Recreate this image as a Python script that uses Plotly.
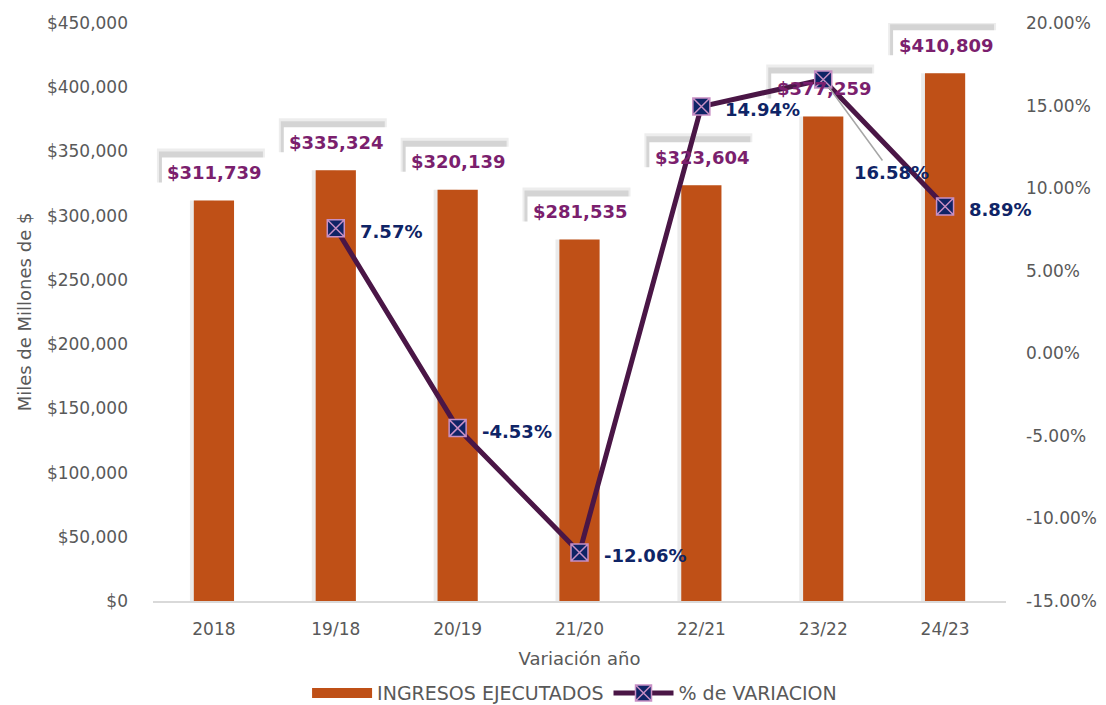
import plotly.graph_objects as go

categories = ["2018", "19/18", "20/19", "21/20", "22/21", "23/22", "24/23"]
ingresos = [311739, 335324, 320139, 281535, 323604, 377259, 410809]
variacion = [None, 7.57, -4.53, -12.06, 14.94, 16.58, 8.89]
y_ticks = [0, 50000, 100000, 150000, 200000, 250000, 300000, 350000, 400000, 450000]
y2_ticks = [-15, -10, -5, 0, 5, 10, 15, 20]

FONT = "DejaVu Sans"
GREY = "#595959"
BAR = "#BF5017"
LINE = "#4A1646"
MARK = "#0F2466"
LBL_BAR = "#7B1F6E"

xpos = list(range(len(categories)))

fig = go.Figure()
fig.add_trace(go.Bar(
    x=xpos, y=ingresos, name="INGRESOS EJECUTADOS", showlegend=False,
    marker=dict(color=BAR, line=dict(width=0)), width=0.33,
))
# legend entry for the bars drawn as a wide rectangle swatch
fig.add_trace(go.Scatter(
    x=[None], y=[None], name="INGRESOS EJECUTADOS", mode="lines",
    line=dict(color=BAR, width=15),
))
fig.add_trace(go.Scatter(
    x=xpos, y=variacion, name="% de VARIACION", yaxis="y2",
    mode="lines+markers", line=dict(color=LINE, width=5),
    marker=dict(symbol="square-x", size=17, color=MARK,
                line=dict(color="#C78FC4", width=1.5)),
    connectgaps=False,
))

shapes = []
ann = []
for i, v in zip(xpos, ingresos):
    # soft shadow at the left of each bar
    shapes.append(dict(type="rect", layer="below", xref="x", yref="y",
                       xsizemode="pixel", xanchor=i, x0=-24, x1=0,
                       y0=0, y1=v, fillcolor="rgba(0,0,0,0.08)", line=dict(width=0)))
    # shadow of the value box (two layers for a softer edge)
    shapes.append(dict(type="rect", layer="below", xref="x", yref="y",
                       xsizemode="pixel", ysizemode="pixel", xanchor=i, yanchor=v,
                       x0=-57, x1=51, y0=18, y1=52,
                       fillcolor="rgba(0,0,0,0.07)", line=dict(width=0)))
    shapes.append(dict(type="rect", layer="below", xref="x", yref="y",
                       xsizemode="pixel", ysizemode="pixel", xanchor=i, yanchor=v,
                       x0=-55, x1=49, y0=18, y1=49,
                       fillcolor="rgba(0,0,0,0.10)", line=dict(width=0)))
    # white value box
    shapes.append(dict(type="rect", layer="below", xref="x", yref="y",
                       xsizemode="pixel", ysizemode="pixel", xanchor=i, yanchor=v,
                       x0=-52, x1=53, y0=13, y1=43,
                       fillcolor="white", line=dict(width=0)))
    ann.append(dict(x=i, y=v, xref="x", yref="y", text="<b>$" + f"{v:,}" + "</b>",
                    showarrow=False, yanchor="middle", yshift=28, xshift=1,
                    font=dict(family=FONT, size=18, color=LBL_BAR)))

for i, v in zip(xpos, variacion):
    if v is None:
        continue
    txt = f"<b>{v:.2f}%</b>"
    if categories[i] == "23/22":
        ann.append(dict(x=i, y=v, xref="x", yref="y2", text=txt, showarrow=True,
                        ax=68, ay=93, arrowhead=0, arrowwidth=1.5, arrowcolor="#A6A6A6",
                        standoff=9,
                        font=dict(family=FONT, size=18, color=MARK)))
    else:
        ann.append(dict(x=i, y=v, xref="x", yref="y2", text=txt, showarrow=False,
                        xanchor="left", xshift=22, yshift=-3,
                        font=dict(family=FONT, size=18, color=MARK)))

# The page adds an 8 px body margin, so the figure is 8 px smaller each way.
fig.update_layout(
    width=1098, height=697,
    margin=dict(l=145, r=100, t=15, b=104),
    paper_bgcolor="white", plot_bgcolor="white",
    font=dict(family=FONT, size=17, color=GREY),
    bargap=0.67,
    showlegend=True,
    legend=dict(orientation="h", x=0.516, xanchor="center", xref="container",
                y=0.017, yanchor="middle", yref="container",
                font=dict(family=FONT, size=19, color=GREY), itemwidth=60,
                tracegroupgap=0),
    xaxis=dict(range=[-0.5, 6.5], tickvals=xpos, ticktext=categories,
               showgrid=False, showline=True, linecolor="#D9D9D9", linewidth=1.5,
               zeroline=False, ticks="", tickfont=dict(size=17, color=GREY),
               automargin=False, ticklabelstandoff=12,
               title=dict(text="Variación año", font=dict(size=18, color=GREY), standoff=14)),
    yaxis=dict(range=[0, 450000], tickvals=y_ticks,
               ticktext=["$" + f"{t:,}" for t in y_ticks],
               showgrid=False, zeroline=False, showline=False, ticks="",
               ticklabelstandoff=24, automargin=False,
               title=dict(text="Miles de Millones de $", font=dict(size=18, color=GREY), standoff=10)),
    yaxis2=dict(range=[-15, 20], tickvals=y2_ticks,
                ticktext=[f"{t:.2f}%" for t in y2_ticks],
                overlaying="y", side="right", showgrid=False, zeroline=False,
                showline=False, ticks="", ticklabelstandoff=19, automargin=False),
    shapes=shapes,
    annotations=ann,
)

fig.write_html("out.html")
